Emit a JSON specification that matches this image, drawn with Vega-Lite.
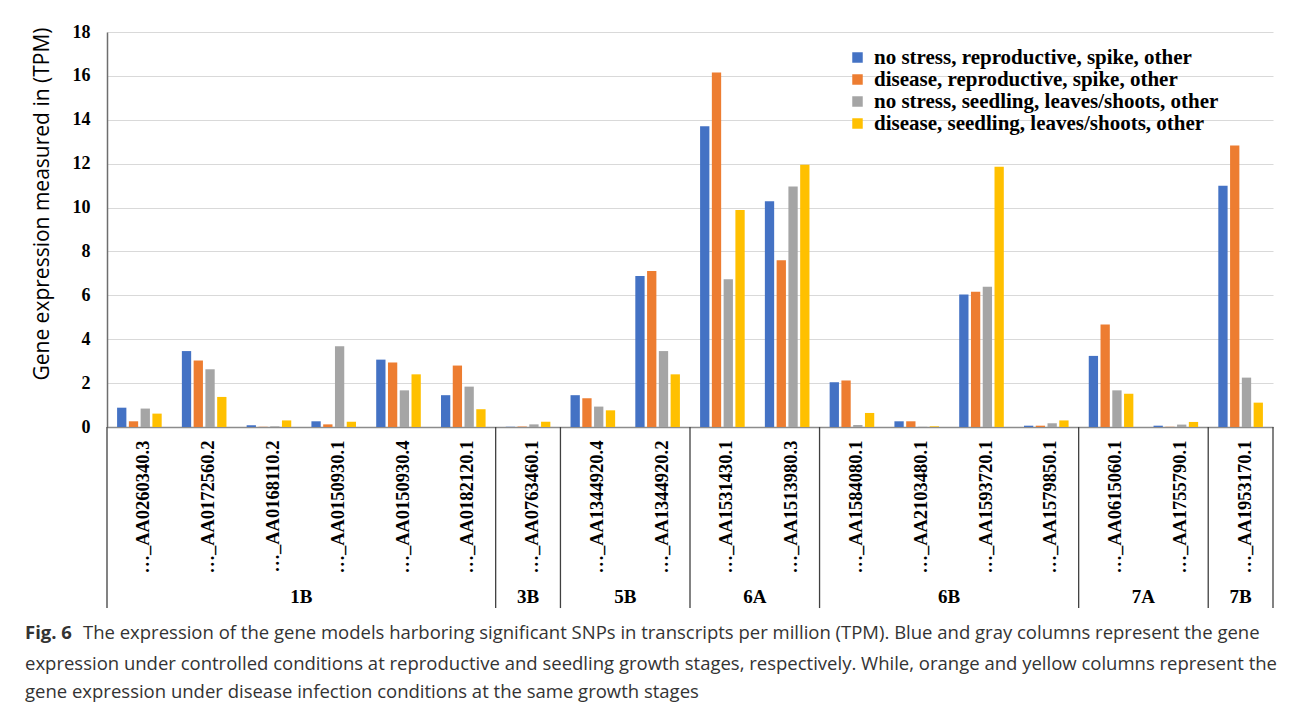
{
  "$schema": "https://vega.github.io/schema/vega-lite/v6.json",
  "width": 1166,
  "height": 395,
  "autosize": {"type": "none"},
  "padding": {"left": 107, "top": 32, "right": 17, "bottom": 277},
  "background": "white",
  "config": {"view": {"stroke": null}},
  "title": {
    "text": [
      "expression under controlled conditions at reproductive and seedling growth stages, respectively. While, orange and yellow columns represent the",
      "gene expression under disease infection conditions at the same growth stages"
    ],
    "orient": "bottom",
    "anchor": "start",
    "frame": "group",
    "dx": -82,
    "offset": 12,
    "font": "Open Sans",
    "fontSize": 18.5,
    "fontWeight": "normal",
    "color": "#333333",
    "lineHeight": 28.5
  },
  "datasets": {
    "expr": [
      {"gene": "…_AA0260340.3", "condition": "no stress, reproductive, spike, other", "tpm": 0.88},
      {"gene": "…_AA0260340.3", "condition": "disease, reproductive, spike, other", "tpm": 0.26},
      {"gene": "…_AA0260340.3", "condition": "no stress, seedling, leaves/shoots, other", "tpm": 0.84},
      {"gene": "…_AA0260340.3", "condition": "disease, seedling, leaves/shoots, other", "tpm": 0.61},
      {"gene": "…_AA0172560.2", "condition": "no stress, reproductive, spike, other", "tpm": 3.46},
      {"gene": "…_AA0172560.2", "condition": "disease, reproductive, spike, other", "tpm": 3.03},
      {"gene": "…_AA0172560.2", "condition": "no stress, seedling, leaves/shoots, other", "tpm": 2.63},
      {"gene": "…_AA0172560.2", "condition": "disease, seedling, leaves/shoots, other", "tpm": 1.37},
      {"gene": "…_AA0168110.2", "condition": "no stress, reproductive, spike, other", "tpm": 0.08},
      {"gene": "…_AA0168110.2", "condition": "disease, reproductive, spike, other", "tpm": 0.01},
      {"gene": "…_AA0168110.2", "condition": "no stress, seedling, leaves/shoots, other", "tpm": 0.03},
      {"gene": "…_AA0168110.2", "condition": "disease, seedling, leaves/shoots, other", "tpm": 0.30},
      {"gene": "…_AA0150930.1", "condition": "no stress, reproductive, spike, other", "tpm": 0.26},
      {"gene": "…_AA0150930.1", "condition": "disease, reproductive, spike, other", "tpm": 0.12},
      {"gene": "…_AA0150930.1", "condition": "no stress, seedling, leaves/shoots, other", "tpm": 3.68},
      {"gene": "…_AA0150930.1", "condition": "disease, seedling, leaves/shoots, other", "tpm": 0.24},
      {"gene": "…_AA0150930.4", "condition": "no stress, reproductive, spike, other", "tpm": 3.07},
      {"gene": "…_AA0150930.4", "condition": "disease, reproductive, spike, other", "tpm": 2.94},
      {"gene": "…_AA0150930.4", "condition": "no stress, seedling, leaves/shoots, other", "tpm": 1.67},
      {"gene": "…_AA0150930.4", "condition": "disease, seedling, leaves/shoots, other", "tpm": 2.40},
      {"gene": "…_AA0182120.1", "condition": "no stress, reproductive, spike, other", "tpm": 1.45},
      {"gene": "…_AA0182120.1", "condition": "disease, reproductive, spike, other", "tpm": 2.80},
      {"gene": "…_AA0182120.1", "condition": "no stress, seedling, leaves/shoots, other", "tpm": 1.84},
      {"gene": "…_AA0182120.1", "condition": "disease, seedling, leaves/shoots, other", "tpm": 0.81},
      {"gene": "…_AA0763460.1", "condition": "no stress, reproductive, spike, other", "tpm": 0.01},
      {"gene": "…_AA0763460.1", "condition": "disease, reproductive, spike, other", "tpm": 0.02},
      {"gene": "…_AA0763460.1", "condition": "no stress, seedling, leaves/shoots, other", "tpm": 0.12},
      {"gene": "…_AA0763460.1", "condition": "disease, seedling, leaves/shoots, other", "tpm": 0.24},
      {"gene": "…_AA1344920.4", "condition": "no stress, reproductive, spike, other", "tpm": 1.45},
      {"gene": "…_AA1344920.4", "condition": "disease, reproductive, spike, other", "tpm": 1.31},
      {"gene": "…_AA1344920.4", "condition": "no stress, seedling, leaves/shoots, other", "tpm": 0.93},
      {"gene": "…_AA1344920.4", "condition": "disease, seedling, leaves/shoots, other", "tpm": 0.76},
      {"gene": "…_AA1344920.2", "condition": "no stress, reproductive, spike, other", "tpm": 6.88},
      {"gene": "…_AA1344920.2", "condition": "disease, reproductive, spike, other", "tpm": 7.11},
      {"gene": "…_AA1344920.2", "condition": "no stress, seedling, leaves/shoots, other", "tpm": 3.46},
      {"gene": "…_AA1344920.2", "condition": "disease, seedling, leaves/shoots, other", "tpm": 2.40},
      {"gene": "…_AA1531430.1", "condition": "no stress, reproductive, spike, other", "tpm": 13.71},
      {"gene": "…_AA1531430.1", "condition": "disease, reproductive, spike, other", "tpm": 16.16},
      {"gene": "…_AA1531430.1", "condition": "no stress, seedling, leaves/shoots, other", "tpm": 6.73},
      {"gene": "…_AA1531430.1", "condition": "disease, seedling, leaves/shoots, other", "tpm": 9.89},
      {"gene": "…_AA1513980.3", "condition": "no stress, reproductive, spike, other", "tpm": 10.29},
      {"gene": "…_AA1513980.3", "condition": "disease, reproductive, spike, other", "tpm": 7.60},
      {"gene": "…_AA1513980.3", "condition": "no stress, seedling, leaves/shoots, other", "tpm": 10.96},
      {"gene": "…_AA1513980.3", "condition": "disease, seedling, leaves/shoots, other", "tpm": 11.95},
      {"gene": "…_AA1584080.1", "condition": "no stress, reproductive, spike, other", "tpm": 2.04},
      {"gene": "…_AA1584080.1", "condition": "disease, reproductive, spike, other", "tpm": 2.12},
      {"gene": "…_AA1584080.1", "condition": "no stress, seedling, leaves/shoots, other", "tpm": 0.09},
      {"gene": "…_AA1584080.1", "condition": "disease, seedling, leaves/shoots, other", "tpm": 0.64},
      {"gene": "…_AA2103480.1", "condition": "no stress, reproductive, spike, other", "tpm": 0.26},
      {"gene": "…_AA2103480.1", "condition": "disease, reproductive, spike, other", "tpm": 0.26},
      {"gene": "…_AA2103480.1", "condition": "no stress, seedling, leaves/shoots, other", "tpm": 0.01},
      {"gene": "…_AA2103480.1", "condition": "disease, seedling, leaves/shoots, other", "tpm": 0.03},
      {"gene": "…_AA1593720.1", "condition": "no stress, reproductive, spike, other", "tpm": 6.04},
      {"gene": "…_AA1593720.1", "condition": "disease, reproductive, spike, other", "tpm": 6.16},
      {"gene": "…_AA1593720.1", "condition": "no stress, seedling, leaves/shoots, other", "tpm": 6.39},
      {"gene": "…_AA1593720.1", "condition": "disease, seedling, leaves/shoots, other", "tpm": 11.86},
      {"gene": "…_AA1579850.1", "condition": "no stress, reproductive, spike, other", "tpm": 0.06},
      {"gene": "…_AA1579850.1", "condition": "disease, reproductive, spike, other", "tpm": 0.06},
      {"gene": "…_AA1579850.1", "condition": "no stress, seedling, leaves/shoots, other", "tpm": 0.17},
      {"gene": "…_AA1579850.1", "condition": "disease, seedling, leaves/shoots, other", "tpm": 0.30},
      {"gene": "…_AA0615060.1", "condition": "no stress, reproductive, spike, other", "tpm": 3.24},
      {"gene": "…_AA0615060.1", "condition": "disease, reproductive, spike, other", "tpm": 4.67},
      {"gene": "…_AA0615060.1", "condition": "no stress, seedling, leaves/shoots, other", "tpm": 1.67},
      {"gene": "…_AA0615060.1", "condition": "disease, seedling, leaves/shoots, other", "tpm": 1.52},
      {"gene": "…_AA1755790.1", "condition": "no stress, reproductive, spike, other", "tpm": 0.06},
      {"gene": "…_AA1755790.1", "condition": "disease, reproductive, spike, other", "tpm": 0.01},
      {"gene": "…_AA1755790.1", "condition": "no stress, seedling, leaves/shoots, other", "tpm": 0.11},
      {"gene": "…_AA1755790.1", "condition": "disease, seedling, leaves/shoots, other", "tpm": 0.23},
      {"gene": "…_AA1953170.1", "condition": "no stress, reproductive, spike, other", "tpm": 10.99},
      {"gene": "…_AA1953170.1", "condition": "disease, reproductive, spike, other", "tpm": 12.83},
      {"gene": "…_AA1953170.1", "condition": "no stress, seedling, leaves/shoots, other", "tpm": 2.25},
      {"gene": "…_AA1953170.1", "condition": "disease, seedling, leaves/shoots, other", "tpm": 1.11}
    ],
    "groups": [
      {"chr": "1B", "first": "…_AA0260340.3", "last": "…_AA0182120.1", "mid": "…_AA0150930.1", "n": 6},
      {"chr": "3B", "first": "…_AA0763460.1", "last": "…_AA0763460.1", "mid": "…_AA0763460.1", "n": 1},
      {"chr": "5B", "first": "…_AA1344920.4", "last": "…_AA1344920.2", "mid": "…_AA1344920.2", "n": 2},
      {"chr": "6A", "first": "…_AA1531430.1", "last": "…_AA1513980.3", "mid": "…_AA1513980.3", "n": 2},
      {"chr": "6B", "first": "…_AA1584080.1", "last": "…_AA1579850.1", "mid": "…_AA1593720.1", "n": 4},
      {"chr": "7A", "first": "…_AA0615060.1", "last": "…_AA1755790.1", "mid": "…_AA1755790.1", "n": 2},
      {"chr": "7B", "first": "…_AA1953170.1", "last": "…_AA1953170.1", "mid": "…_AA1953170.1", "n": 1}
    ]
  },
  "layer": [
    {
      "data": {"name": "expr"},
      "mark": {"type": "bar"},
      "encoding": {
        "x": {
          "field": "gene", "type": "nominal", "sort": null,
          "scale": {"domain": ["…_AA0260340.3","…_AA0172560.2","…_AA0168110.2","…_AA0150930.1","…_AA0150930.4","…_AA0182120.1","…_AA0763460.1","…_AA1344920.4","…_AA1344920.2","…_AA1531430.1","…_AA1513980.3","…_AA1584080.1","…_AA2103480.1","…_AA1593720.1","…_AA1579850.1","…_AA0615060.1","…_AA1755790.1","…_AA1953170.1"], "paddingInner": 0, "paddingOuter": 0},
          "axis": {
            "title": null, "labelAngle": -90, "labelAlign": "right", "labelBaseline": "middle",
            "labelFont": "Liberation Serif", "labelFontWeight": "bold",
            "labelFontSize": 18.5, "labelColor": "black", "labelPadding": 13, "labelOffset": 4, "ticks": false,
            "labelOverlap": false, "labelLimit": 300,
            "domainColor": "#8c8c8c", "domainWidth": 1.5
          }
        },
        "xOffset": {
          "field": "condition", "type": "nominal", "sort": null,
          "scale": {"domain": ["no stress, reproductive, spike, other","disease, reproductive, spike, other","no stress, seedling, leaves/shoots, other","disease, seedling, leaves/shoots, other"], "paddingInner": 0.21, "paddingOuter": 0.857}
        },
        "y": {
          "field": "tpm", "type": "quantitative",
          "scale": {"domain": [0, 18], "nice": false},
          "axis": {
            "title": "Gene expression measured in (TPM)", "values": [0,2,4,6,8,10,12,14,16,18],
            "grid": true, "gridColor": "#d9d9d9", "gridWidth": 1.2, "ticks": false,
            "domainColor": "#6e6e6e", "domainWidth": 1.5,
            "labelFont": "Liberation Serif", "labelFontWeight": "bold", "labelFontSize": 18, "labelColor": "black",
            "labelPadding": 17,
            "titleFont": "Open Sans", "titleFontSize": 21, "titleFontWeight": "normal", "titleColor": "black",
            "titlePadding": 20, "titleAnchor": "end", "titleY": -5
          }
        },
        "color": {
          "field": "condition", "type": "nominal", "sort": null,
          "scale": {"domain": ["no stress, reproductive, spike, other","disease, reproductive, spike, other","no stress, seedling, leaves/shoots, other","disease, seedling, leaves/shoots, other"], "range": ["#4472C4","#ED7D31","#A5A5A5","#FFC000"]},
          "legend": {
            "title": null, "orient": "none", "legendX": 740, "legendY": 15, "padding": 0,
            "symbolType": "square", "symbolSize": 110, "symbolStrokeWidth": 0,
            "labelFont": "Liberation Serif", "labelFontWeight": "bold", "labelFontSize": 21, "labelColor": "black",
            "labelOffset": 6, "rowPadding": 0, "labelLimit": 0
          }
        }
      }
    },
    {
      "data": {"name": "groups"},
      "mark": {"type": "rule", "color": "#404040", "strokeWidth": 1.3},
      "encoding": {
        "x": {"field": "first", "type": "nominal", "bandPosition": 0,
              "scale": {"domain": ["…_AA0260340.3","…_AA0172560.2","…_AA0168110.2","…_AA0150930.1","…_AA0150930.4","…_AA0182120.1","…_AA0763460.1","…_AA1344920.4","…_AA1344920.2","…_AA1531430.1","…_AA1513980.3","…_AA1584080.1","…_AA2103480.1","…_AA1593720.1","…_AA1579850.1","…_AA0615060.1","…_AA1755790.1","…_AA1953170.1"]}},
        "y": {"datum": 0, "scale": {"domain": [0, 18], "nice": false}},
        "y2": {"datum": -8.25}
      }
    },
    {
      "data": {"name": "groups"},
      "transform": [{"filter": "datum.chr === '7B'"}],
      "mark": {"type": "rule", "color": "#404040", "strokeWidth": 1.3},
      "encoding": {
        "x": {"field": "last", "type": "nominal", "bandPosition": 1,
              "scale": {"domain": ["…_AA0260340.3","…_AA0172560.2","…_AA0168110.2","…_AA0150930.1","…_AA0150930.4","…_AA0182120.1","…_AA0763460.1","…_AA1344920.4","…_AA1344920.2","…_AA1531430.1","…_AA1513980.3","…_AA1584080.1","…_AA2103480.1","…_AA1593720.1","…_AA1579850.1","…_AA0615060.1","…_AA1755790.1","…_AA1953170.1"]}},
        "y": {"datum": 0, "scale": {"domain": [0, 18], "nice": false}},
        "y2": {"datum": -8.25}
      }
    },
    {
      "data": {"name": "groups"},
      "transform": [{"filter": "datum.n % 2 === 1"}],
      "mark": {"type": "text", "font": "Liberation Serif", "fontWeight": "bold", "fontSize": 19, "color": "black", "baseline": "middle"},
      "encoding": {
        "x": {"field": "mid", "type": "nominal", "bandPosition": 0.5,
              "scale": {"domain": ["…_AA0260340.3","…_AA0172560.2","…_AA0168110.2","…_AA0150930.1","…_AA0150930.4","…_AA0182120.1","…_AA0763460.1","…_AA1344920.4","…_AA1344920.2","…_AA1531430.1","…_AA1513980.3","…_AA1584080.1","…_AA2103480.1","…_AA1593720.1","…_AA1579850.1","…_AA0615060.1","…_AA1755790.1","…_AA1953170.1"]}},
        "y": {"datum": -7.75, "scale": {"domain": [0, 18], "nice": false}},
        "text": {"field": "chr"}
      }
    },
    {
      "data": {"name": "groups"},
      "transform": [{"filter": "datum.n % 2 === 0"}],
      "mark": {"type": "text", "font": "Liberation Serif", "fontWeight": "bold", "fontSize": 19, "color": "black", "baseline": "middle"},
      "encoding": {
        "x": {"field": "mid", "type": "nominal", "bandPosition": 0,
              "scale": {"domain": ["…_AA0260340.3","…_AA0172560.2","…_AA0168110.2","…_AA0150930.1","…_AA0150930.4","…_AA0182120.1","…_AA0763460.1","…_AA1344920.4","…_AA1344920.2","…_AA1531430.1","…_AA1513980.3","…_AA1584080.1","…_AA2103480.1","…_AA1593720.1","…_AA1579850.1","…_AA0615060.1","…_AA1755790.1","…_AA1953170.1"]}},
        "y": {"datum": -7.75, "scale": {"domain": [0, 18], "nice": false}},
        "text": {"field": "chr"}
      }
    },
    {
      "data": {"name": "groups"},
      "transform": [{"filter": "datum.chr === '1B'"}],
      "mark": {"type": "text", "font": "Open Sans", "fontWeight": "bold", "fontSize": 18.5, "color": "#333333", "align": "left", "baseline": "middle", "dx": -82},
      "encoding": {
        "x": {"field": "first", "type": "nominal", "bandPosition": 0,
              "scale": {"domain": ["…_AA0260340.3","…_AA0172560.2","…_AA0168110.2","…_AA0150930.1","…_AA0150930.4","…_AA0182120.1","…_AA0763460.1","…_AA1344920.4","…_AA1344920.2","…_AA1531430.1","…_AA1513980.3","…_AA1584080.1","…_AA2103480.1","…_AA1593720.1","…_AA1579850.1","…_AA0615060.1","…_AA1755790.1","…_AA1953170.1"]}},
        "y": {"datum": -9.39, "scale": {"domain": [0, 18], "nice": false}},
        "text": {"value": "Fig. 6"}
      }
    },
    {
      "data": {"name": "groups"},
      "transform": [{"filter": "datum.chr === '1B'"}],
      "mark": {"type": "text", "font": "Open Sans", "fontWeight": "normal", "fontSize": 18.5, "color": "#333333", "align": "left", "baseline": "middle", "dx": -24},
      "encoding": {
        "x": {"field": "first", "type": "nominal", "bandPosition": 0,
              "scale": {"domain": ["…_AA0260340.3","…_AA0172560.2","…_AA0168110.2","…_AA0150930.1","…_AA0150930.4","…_AA0182120.1","…_AA0763460.1","…_AA1344920.4","…_AA1344920.2","…_AA1531430.1","…_AA1513980.3","…_AA1584080.1","…_AA2103480.1","…_AA1593720.1","…_AA1579850.1","…_AA0615060.1","…_AA1755790.1","…_AA1953170.1"]}},
        "y": {"datum": -9.39, "scale": {"domain": [0, 18], "nice": false}},
        "text": {"value": "The expression of the gene models harboring significant SNPs in transcripts per million (TPM). Blue and gray columns represent the gene"}
      }
    }
  ]
}
